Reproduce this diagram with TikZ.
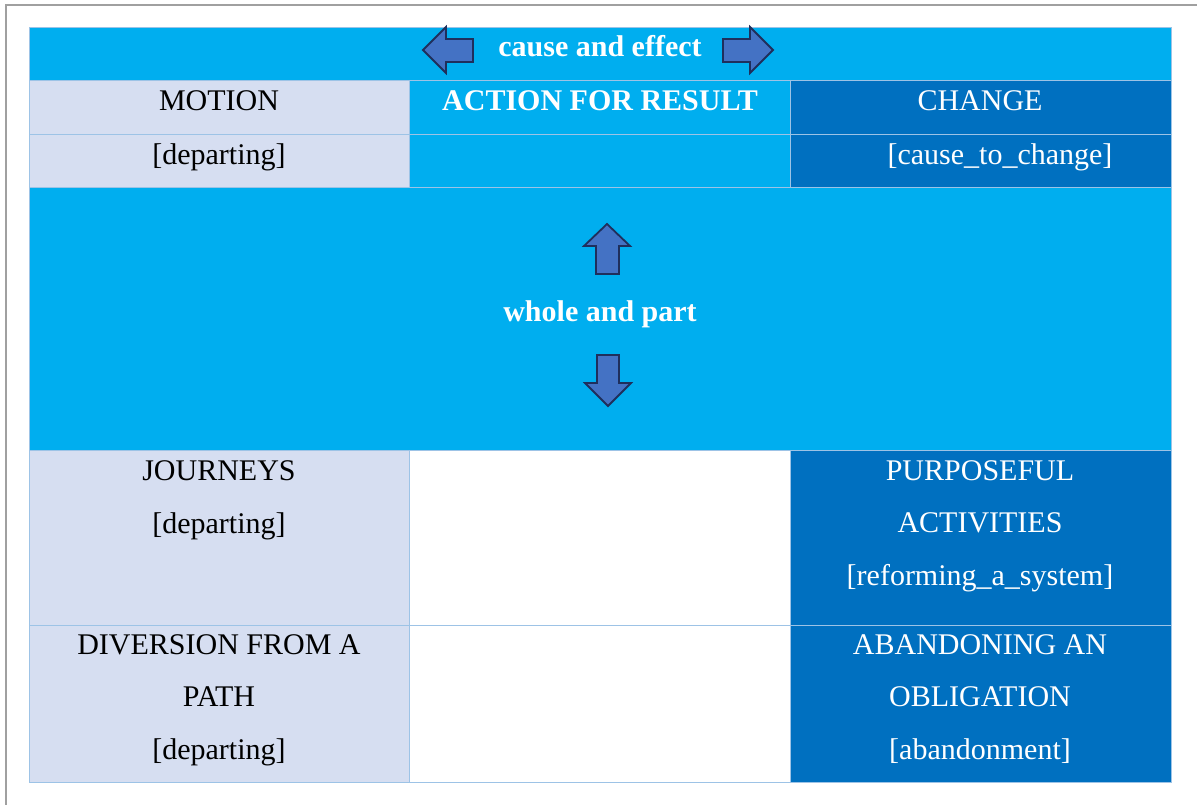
\documentclass[tikz,border=0pt]{standalone}
\usepackage{fontspec}
\setmainfont{Liberation Serif}
\definecolor{cyanbg}{HTML}{00AEEF}
\definecolor{darkbg}{HTML}{0070C0}
\definecolor{lavbg}{HTML}{D6DEF1}
\definecolor{gridc}{HTML}{9DC3E6}
\definecolor{framec}{HTML}{A0A0A0}
\definecolor{arrowfill}{HTML}{4472C4}
\definecolor{arrowline}{HTML}{1F2F5C}
\begin{document}
\begin{tikzpicture}[x=1pt,y=-1pt,
  gridline/.style={draw=gridc,line width=0.9pt},
  arrowshape/.style={fill=arrowfill,draw=arrowline,line width=1.8pt,line join=miter},
  txt/.style={inner sep=0pt,anchor=base,align=center,
    font=\fontsize{30}{52.5}\selectfont},
  dark/.style={txt,text=black},
  light/.style={txt,text=white},
  lightbold/.style={txt,text=white,font=\fontsize{30}{52.5}\selectfont\bfseries}]
\useasboundingbox (0,0) rectangle (1197,805);
% page frame
\draw[framec,line width=1.3pt] (1197,5) -- (6,5) -- (6,805);
% cell backgrounds
\fill[cyanbg] (29,27) rectangle (1171,80);
\fill[lavbg] (29,80) rectangle (409,187);
\fill[cyanbg] (409,80) rectangle (790,187);
\fill[darkbg] (790,80) rectangle (1171,187);
\fill[cyanbg] (29,187) rectangle (1171,450);
\fill[lavbg] (29,450) rectangle (409,782);
\fill[white] (409,450) rectangle (790,782);
\fill[darkbg] (790,450) rectangle (1171,782);
% table rules
\draw[gridline] (29,27) rectangle (1171,782);
\foreach \yy in {80,134,187,450,625} \draw[gridline] (29,\yy) -- (1171,\yy);
\foreach \xx in {409,790} {
  \draw[gridline] (\xx,80) -- (\xx,187);
  \draw[gridline] (\xx,450) -- (\xx,782);
}
% block arrows
\filldraw[arrowshape] (423,50) -- (446,27) -- (446,39) -- (473,39) -- (473,62) -- (446,62) -- (446,73) -- cycle;
\filldraw[arrowshape] (773,50) -- (750,27) -- (750,39) -- (723,39) -- (723,62) -- (750,62) -- (750,73) -- cycle;
\filldraw[arrowshape] (607,224) -- (630,246) -- (619,246) -- (619,274) -- (596,274) -- (596,246) -- (584,246) -- cycle;
\filldraw[arrowshape] (608,406) -- (631,383) -- (619,383) -- (619,355) -- (597,355) -- (597,383) -- (585,383) -- cycle;
% texts
\node[lightbold] (cause) at (600,57) {cause and effect};
\node[dark] (motion) at (219,111) {MOTION};
\node[lightbold] (action) at (600,111) {ACTION FOR RESULT};
\node[light] (change) at (980,111) {CHANGE};
\node[dark] (dep1) at (219,165) {[departing]};
\node[light] (ctc) at (1000,165) {[cause\_to\_change]};
\node[lightbold] (whole) at (600,321) {whole and part};
\node[dark] (journeys) at (219,533) {JOURNEYS\\{}[departing]};
\node[light] (purpose) at (980,585) {PURPOSEFUL\\ACTIVITIES\\{}[reforming\_a\_system]};
\node[dark] (diversion) at (219,759) {DIVERSION FROM A\\PATH\\{}[departing]};
\node[light] (abandon) at (980,759) {ABANDONING AN\\OBLIGATION\\{}[abandonment]};
\end{tikzpicture}
\end{document}
